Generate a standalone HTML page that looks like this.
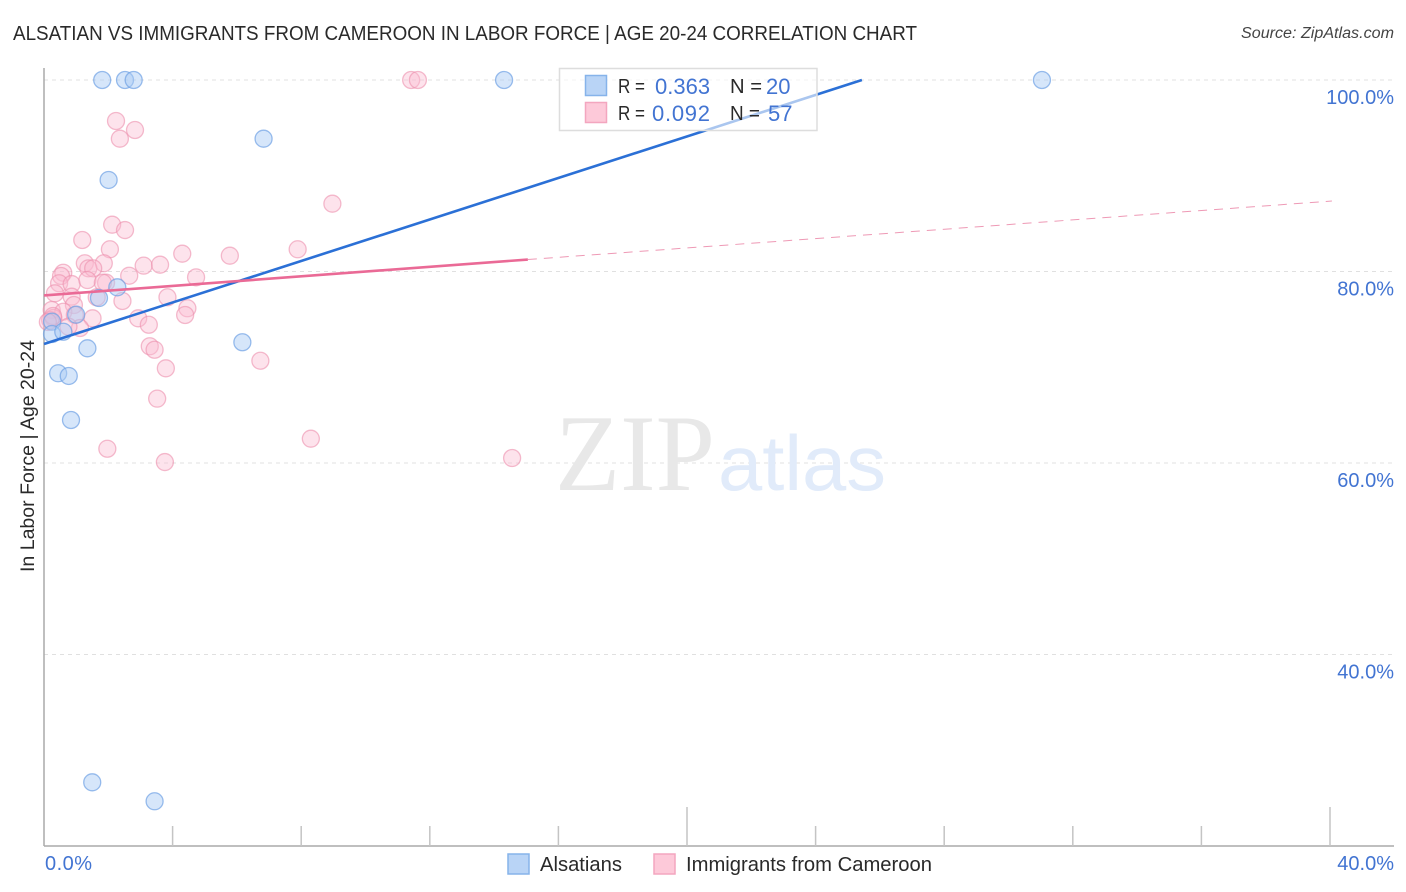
<!DOCTYPE html>
<html lang="en">
<head>
<meta charset="utf-8">
<title>Alsatian vs Immigrants from Cameroon Correlation Chart</title>
<style>
html,body{margin:0;padding:0;background:#fff;width:1406px;height:892px;overflow:hidden}
svg{display:block}
text{font-family:"Liberation Sans",sans-serif}
</style>
</head>
<body>
<svg id="chart" xmlns="http://www.w3.org/2000/svg" width="1406" height="892" viewBox="0 0 1406 892">
  <rect x="0" y="0" width="1406" height="892" fill="#ffffff"/>
  <text x="13" y="40" font-size="20" fill="#2a2a2a" textLength="904" lengthAdjust="spacingAndGlyphs">ALSATIAN VS IMMIGRANTS FROM CAMEROON IN LABOR FORCE | AGE 20-24 CORRELATION CHART</text>
  <text x="1241" y="38" font-size="15.5" font-style="italic" fill="#444444" textLength="153" lengthAdjust="spacingAndGlyphs">Source: ZipAtlas.com</text>
  <g id="grid"></g>
  <g>
    <text x="555" y="490" font-size="109" fill="#e8e8e8" style="font-family:'Liberation Serif',serif" textLength="160" lengthAdjust="spacingAndGlyphs">ZIP</text>
    <text x="718" y="490" font-size="78" fill="#e1ebfa" textLength="168" lengthAdjust="spacingAndGlyphs">atlas</text>
  </g>
  <g id="axes"></g>
  <g id="points-pink"></g>
  <g id="points-blue"></g>
  <g id="trends"></g>
  <g>
    <rect x="559.5" y="68.5" width="257.5" height="62" fill="#ffffff" fill-opacity="0.6" stroke="#dddddd" stroke-width="1.5"/>
    <rect x="585.5" y="75.5" width="21" height="20" fill="#b9d4f6" stroke="#86b3ea" stroke-width="1.5"/>
    <rect x="585.5" y="102.5" width="21" height="20" fill="#fdc9d9" stroke="#f3a6bf" stroke-width="1.5"/>
    <text x="618" y="93" font-size="20" fill="#2a2a2a" textLength="27" lengthAdjust="spacingAndGlyphs">R =</text>
    <text x="655" y="94" font-size="22" fill="#4274d2">0.363</text>
    <text x="730" y="93" font-size="20" fill="#2a2a2a" textLength="32" lengthAdjust="spacingAndGlyphs">N =</text>
    <text x="766" y="94" font-size="22" fill="#4274d2">20</text>
    <text x="618" y="120" font-size="20" fill="#2a2a2a" textLength="27" lengthAdjust="spacingAndGlyphs">R =</text>
    <text x="652" y="121" font-size="22" fill="#4274d2" textLength="58">0.092</text>
    <text x="730" y="120" font-size="20" fill="#2a2a2a" textLength="30" lengthAdjust="spacingAndGlyphs">N =</text>
    <text x="768" y="121" font-size="22" fill="#4274d2">57</text>
  </g>
  <g>
    <rect x="508" y="854" width="21" height="20" fill="#b9d4f6" stroke="#86b3ea" stroke-width="1.5"/>
    <text x="540" y="871" font-size="20" fill="#2a2a2a" textLength="82" lengthAdjust="spacingAndGlyphs">Alsatians</text>
    <rect x="654" y="854" width="21" height="20" fill="#fdc9d9" stroke="#f3a6bf" stroke-width="1.5"/>
    <text x="686" y="871" font-size="20" fill="#2a2a2a" textLength="246" lengthAdjust="spacingAndGlyphs">Immigrants from Cameroon</text>
  </g>
  <text transform="translate(34,456) rotate(-90)" font-size="19" fill="#2a2a2a" text-anchor="middle" textLength="232" lengthAdjust="spacingAndGlyphs">In Labor Force | Age 20-24</text>
</svg>
<script>
var alsatianX = [1.81,2.52,2.79,14.31,31.04,6.83,2.01,2.28,1.71,1.00,0.25,0.25,0.60,1.35,6.17,0.44,0.77,0.84,1.50,3.44];
var alsatianY = [100,100,100,100,100,93.87,89.56,78.35,77.23,75.49,74.76,73.47,73.71,71.98,72.61,69.37,69.09,64.49,26.65,24.67];
var cameroonX = [2.24,2.83,2.36,8.97,2.12,2.52,1.19,11.42,11.63,2.05,4.30,5.78,7.89,1.27,1.86,1.38,1.53,3.10,3.61,2.65,4.73,0.60,0.53,0.47,0.86,1.35,1.93,1.83,0.34,0.86,1.64,2.44,3.84,0.93,4.46,4.39,0.24,0.60,0.96,1.51,2.93,3.26,0.29,0.19,1.12,0.76,3.29,3.44,6.73,3.79,3.52,1.97,8.30,3.76,14.56,0.28,0.12];
var cameroonY = [95.72,94.78,93.87,87.08,84.89,84.33,83.29,100,100,82.32,81.86,81.65,82.32,80.86,80.86,80.33,80.33,80.61,80.71,79.56,79.39,79.87,79.53,78.77,78.69,79.11,78.83,78.83,77.72,77.37,77.31,76.92,77.31,76.50,76.16,75.46,75.98,75.80,75.46,75.11,75.11,74.44,75.14,74.93,74.10,74.24,72.19,71.83,70.68,69.89,66.72,61.49,62.54,60.10,60.52,75.35,74.73];
var blueTrendX = [0,25.44];
var blueTrendY = [72.43,100];
var pinkSolidX = [0,15.05];
var pinkSolidY = [77.5,81.25];
var pinkDashX = [15.05,40.06];
var pinkDashY = [81.25,87.36];
var yTicks = [100,80,60,40];
var yTickLabels = ["100.0%","80.0%","60.0%","40.0%"];
var xTicks = [4,8,12,16,20,24,28,32,36,40];
var xMajorTicks = [20,40];
var xEndLabels = ["0.0%","40.0%"];

var NS = "http://www.w3.org/2000/svg";
function xScale(v){ return 44 + v * 32.15; }
function yScale(v){ return 80 + (100 - v) * 9.575; }
function mk(parent, tag, attrs){
  var el = document.createElementNS(NS, tag);
  for (var k in attrs) el.setAttribute(k, attrs[k]);
  parent.appendChild(el);
  return el;
}
var grid = document.getElementById("grid");
var axes = document.getElementById("axes");
yTicks.forEach(function(t, i){
  var g = mk(grid, "line", {x1:44, x2:1394, y1:yScale(t), y2:yScale(t), stroke:"#e0e0e0", "stroke-width":1, "stroke-dasharray":"4 4"});
  
  
  var l = mk(grid, "text", {x:1394, y:yScale(t)+24, "font-size":20, fill:"#4274d2", "text-anchor":"end"});
  
  
  l.textContent = yTickLabels[i];
});
var yAxis = mk(axes, "line", {x1:44, x2:44, y1:68, y2:846, stroke:"#aaaaaa", "stroke-width":1.5});


var xAxis = mk(axes, "line", {x1:44, x2:1394, y1:846, y2:846, stroke:"#aaaaaa", "stroke-width":1.5});


xTicks.forEach(function(t){
  var top = xMajorTicks.indexOf(t) >= 0 ? 807 : 826;
  var m = mk(axes, "line", {x1:xScale(t), x2:xScale(t), y1:top, y2:846, stroke:"#c4c4c4", "stroke-width":1.5});
  
  
});
var xl0 = mk(axes, "text", {x:45, y:870, "font-size":20, fill:"#4274d2", textLength:47});


xl0.textContent = xEndLabels[0];
var xl1 = mk(axes, "text", {x:1394, y:870, "font-size":20, fill:"#4274d2", "text-anchor":"end"});


xl1.textContent = xEndLabels[1];

var pinkG = document.getElementById("points-pink");
cameroonX.forEach(function(v, i){
  var c = mk(pinkG, "circle", {cx:xScale(v), cy:yScale(cameroonY[i]), r:8.5, fill:"#fbbdd1", "fill-opacity":0.42, stroke:"#ec8fae", "stroke-opacity":0.6, "stroke-width":1.3});
  
  
});
var blueG = document.getElementById("points-blue");
alsatianX.forEach(function(v, i){
  var c = mk(blueG, "circle", {cx:xScale(v), cy:yScale(alsatianY[i]), r:8.5, fill:"#a9cbf5", "fill-opacity":0.48, stroke:"#6fa1e4", "stroke-opacity":0.7, "stroke-width":1.3});
  
  
});
var trends = document.getElementById("trends");
var tb = mk(trends, "line", {x1:xScale(blueTrendX[0]), y1:yScale(blueTrendY[0]), x2:xScale(blueTrendX[1]), y2:yScale(blueTrendY[1]), stroke:"#2b70d6", "stroke-width":2.6});


var tp = mk(trends, "line", {x1:xScale(pinkSolidX[0]), y1:yScale(pinkSolidY[0]), x2:xScale(pinkSolidX[1]), y2:yScale(pinkSolidY[1]), stroke:"#ea6a96", "stroke-width":2.6});


var td = mk(trends, "line", {x1:xScale(pinkDashX[0]), y1:yScale(pinkDashY[0]), x2:xScale(pinkDashX[1]), y2:yScale(pinkDashY[1]), stroke:"#ea7fa3", "stroke-width":1, "stroke-opacity":0.8, "stroke-dasharray":"9 7"});


</script>
</body>
</html>
